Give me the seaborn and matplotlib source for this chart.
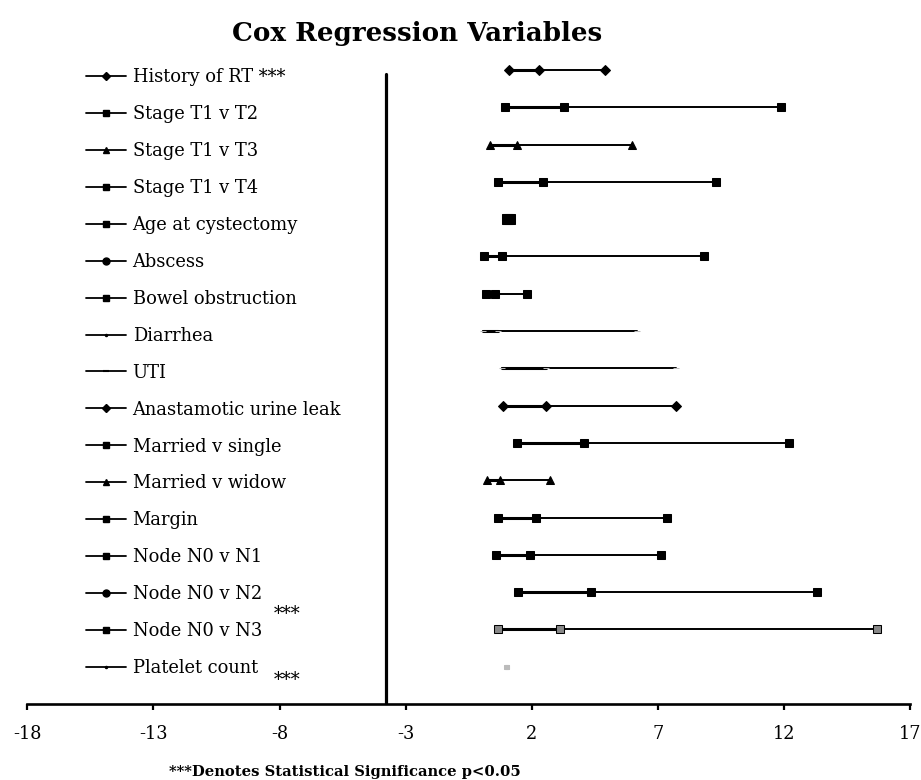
import matplotlib
matplotlib.use("Agg")
import matplotlib.pyplot as plt
from matplotlib.lines import Line2D
import seaborn as sns
import pandas as pd

variables = ["History of RT ***", "Stage T1 v T2", "Stage T1 v T3", "Stage T1 v T4",
             "Age at cystectomy", "Abscess", "Bowel obstruction", "Diarrhea", "UTI",
             "Anastamotic urine leak", "Married v single", "Married v widow", "Margin",
             "Node N0 v N1", "Node N0 v N2", "Node N0 v N3", "Platelet count"]
lower = [1.09, 0.93, 0.36, 0.68, 1.02, 0.11, 0.19, 0.06, 0.82, 0.88, 1.40, 0.23, 0.67,
         0.57, 1.44, 0.67, 1.00]
estimate = [2.28, 3.30, 1.40, 2.45, 1.06, 0.81, 0.55, 0.67, 2.56, 2.57, 4.09, 0.73, 2.17,
            1.95, 4.36, 3.14, 1.02]
upper = [4.91, 11.88, 5.98, 9.32, 1.12, 8.85, 1.80, 6.18, 7.71, 7.71, 12.20, 2.73, 7.38,
         7.12, 13.31, 15.69, 1.04]
plot_markers = ["D", "s", "^", "s", "s", "s", "s", "_", "_", "D", "s", "^", "s", "s", "s", "s", "s"]
legend_markers = ["D", "s", "^", "s", "s", "o", "s", ".", "_", "D", "s", "^", "s", "s", "o", "s", "."]
reference_line = -3.77
xticks = [-18, -13, -8, -3, 2, 7, 12, 17]

sns.set_theme(style="white")
plt.rcParams["font.family"] = ["DejaVu Serif"]
plt.rcParams["text.color"] = "black"
plt.rcParams["axes.labelcolor"] = "black"
plt.rcParams["xtick.color"] = "black"

W, H = 921, 780
fig = plt.figure(figsize=(W / 100, H / 100), dpi=100)
ax = fig.add_axes([27.3 / W, 1 - 704 / H, (910 - 27.3) / W, (704 - 32.6) / H])

df = pd.DataFrame({"var": variables, "lo": lower, "mid": estimate, "hi": upper})
for i, row in df.iterrows():
    m = plot_markers[i]
    faint = row["var"] in ("Diarrhea", "UTI", "Platelet count")
    ms = {"D": 5, "s": 5.5, "^": 5.5, "_": 5}[m]
    if row["var"] == "Age at cystectomy":
        ms = 7
    if row["var"] == "Platelet count":
        ms = 2.5
    mfc = "#bbbbbb" if faint else "black"
    mec = "#bbbbbb" if faint else "black"
    if row["var"] == "Node N0 v N3":
        mfc = "#888888"
    sns.lineplot(x=[row["lo"], row["mid"], row["hi"]], y=[i, i, i], ax=ax, color="black",
                 lw=1.4, marker=m, markersize=ms, markerfacecolor=mfc, markeredgecolor=mec,
                 estimator=None, legend=False, zorder=3)
    sns.lineplot(x=[row["lo"], row["mid"]], y=[i, i], ax=ax, color="black", lw=2.2,
                 estimator=None, legend=False, zorder=2)

n = len(variables)
ax.plot([reference_line, reference_line], [n, 0.1], color="black", lw=2.3, zorder=1)

ax.set_xlim(-18, 17)
ax.set_ylim(n, -1)
ax.set_xticks(xticks)
ax.set_xticklabels([str(t) for t in xticks], fontsize=12.8)
ax.set_yticks([])
ax.set_xlabel("")
ax.set_ylabel("")
for s in ["top", "right", "left"]:
    ax.spines[s].set_visible(False)
ax.spines["bottom"].set_linewidth(1.9)
ax.spines["bottom"].set_color("black")
ax.tick_params(axis="x", direction="out", length=4.5, width=1.6, color="black", pad=10.5,
               bottom=True, labelcolor="black")

handles = []
for i, v in enumerate(variables):
    lm = legend_markers[i]
    ms = {"D": 4, "s": 4.5, "^": 4.5, "o": 5, ".": 3, "_": 5}[lm]
    handles.append(Line2D([0], [0], color="black", lw=1.3, marker=lm, markersize=ms,
                          markeredgewidth=1.5 if lm == "_" else 1))
leg = ax.legend(handles, variables, loc="upper left", bbox_to_anchor=(86 / W, 1 - 68.5 / H),
                bbox_transform=fig.transFigure, frameon=False, fontsize=12.9,
                handlelength=2.25, handletextpad=0.35, labelspacing=1.055, borderpad=0,
                borderaxespad=0)
for t in leg.get_texts():
    t.set_color("black")

fig.text(287 / W, 1 - 618.5 / H, "***", fontsize=12.9, ha="center", va="baseline")
fig.text(287 / W, 1 - 684.5 / H, "***", fontsize=12.9, ha="center", va="baseline")

fig.text(417.5 / W, 1 - 33 / H, "Cox Regression Variables", fontsize=18.8,
         fontweight="bold", ha="center", va="center")
fig.text(345 / W, 1 - 772 / H, "***Denotes Statistical Significance p<0.05", fontsize=10.6,
         fontweight="bold", ha="center", va="center")

fig.savefig("out.png", dpi=100)
